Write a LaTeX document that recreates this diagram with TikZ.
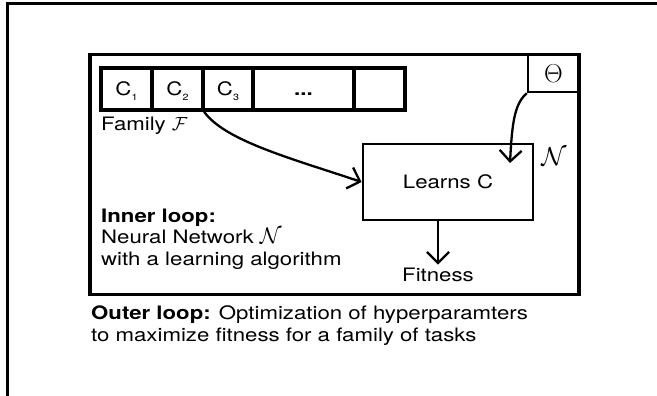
\documentclass[tikz,border=0pt]{standalone}
\usepackage{fontspec}
\setmainfont{TeX Gyre Heros}[FakeStretch=1.2]
\usetikzlibrary{arrows.meta, positioning}

% task with a lowered index
\newcommand{\cidx}[2]{#1\raisebox{-5pt}{\fontsize{9}{9}\selectfont #2}}
% the network symbol, a bit larger than the text
\newcommand{\net}[1][1.3]{\scalebox{#1}{$\mathcal{N}$}}

\begin{document}
\begin{tikzpicture}[x=1pt, y=-1pt,
    every node/.style={font=\fontsize{18.5}{21.5}\selectfont},
    cell/.style={draw, line width=3.2pt, minimum height=42pt, inner sep=0pt, outer sep=0pt,
      text height=13.3pt, text depth=0pt},
    frame/.style={line width=3.2pt},
    link/.style={line width=2.3pt, -{Straight Barb[length=11pt, width=22pt]}}]
  \useasboundingbox (0,0) rectangle (657,396);
  % page edge and outer loop box
  \draw[frame] (7.5,396) |- (657,3.5);
  \draw[frame] (90,54.5) rectangle (579,294.5);

  % family of tasks
  \node[cell, minimum width=51pt] (c1) at (126.5,89) {\cidx{C}{1}};
  \node[cell, minimum width=51pt, right=0pt of c1] (c2) {\cidx{C}{2}};
  \node[cell, minimum width=50pt, right=0pt of c2] (c3) {\cidx{C}{3}};
  \node[cell, minimum width=101pt, right=0pt of c3] (cdots) {\textbf{...}};
  \node[cell, minimum width=51pt, right=0pt of cdots] (clast) {};
  \node[anchor=base west, inner sep=0pt] (family) at (101,131) {Family \scalebox{1.1}{$\mathcal{F}$}};

  % hyperparameters
  \node[draw, line width=2.3pt, minimum width=51pt, minimum height=37pt, inner sep=0pt] (theta)
    at (553.5,73.5) {\scalebox{1.5}{$\Theta$}};

  % inner loop
  \node[draw, line width=2.8pt, minimum width=170pt, minimum height=76pt, inner sep=0pt] (learn)
    at (448,182) {Learns C};
  \node (netlabel) at (554,157) {\net[1.5]};
  \node (fitness) at (438,275) {Fitness};
  \coordinate (thetain) at (510,163);

  \draw[link] (c3.south west) .. controls (222,140) and (290,158) .. (learn.west);
  \draw[link] (theta.south west) .. controls (514,104) and (512,125) .. (thetain);
  \draw[link] (fitness.north |- learn.south) -- (fitness.north);

  % last baselines: 265 and 341
  \node[anchor=base west, align=left, inner sep=0pt] (inner) at (101,265)
    {\textbf{Inner loop:}\\Neural Network \net\\with a learning algorithm};
  \node[anchor=base west, align=left, inner sep=0pt] (outer) at (91,341)
    {\textbf{Outer loop:} Optimization of hyperparamters\\to maximize fitness for a family of tasks};
\end{tikzpicture}
\end{document}
